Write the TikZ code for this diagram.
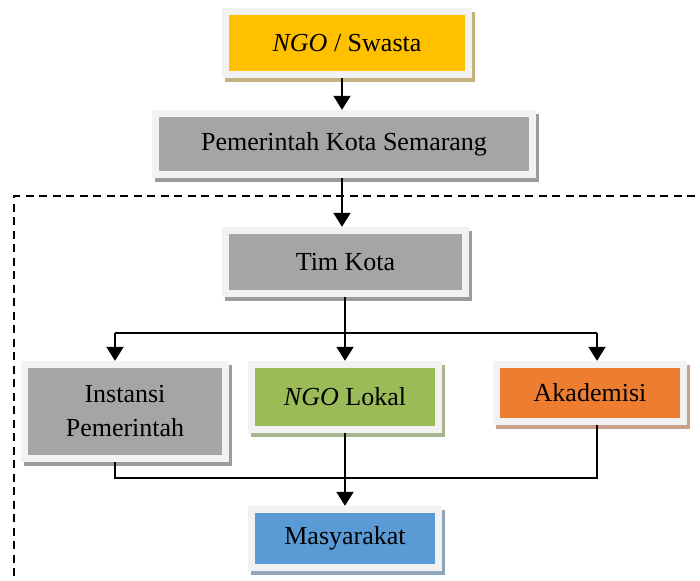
\documentclass[tikz,border=0pt]{standalone}
\usepackage{fontspec}
\setmainfont{Liberation Serif}
\usetikzlibrary{arrows.meta,shadows}
\definecolor{frame}{HTML}{F2F2F2}
\definecolor{cyel}{HTML}{FFC000}
\definecolor{syel}{HTML}{C4B27F}
\definecolor{cgray}{HTML}{A5A5A5}
\definecolor{sgray}{HTML}{9C9C9C}
\definecolor{cgreen}{HTML}{9BBB59}
\definecolor{sgreen}{HTML}{A9B58F}
\definecolor{corange}{HTML}{ED7D31}
\definecolor{sorange}{HTML}{C9A08A}
\definecolor{cblue}{HTML}{5B9BD5}
\definecolor{sblue}{HTML}{8FA5BE}
\tikzset{
  x=1pt, y=-1pt,
  boxnode/.style n args={4}{
    draw=none, fill=frame, inner sep=0pt, minimum width=#1pt, minimum height=#2pt,
    align=center, font=\fontsize{26}{34}\selectfont,
    drop shadow={shadow xshift=3pt, shadow yshift=-4pt, fill=#4, opacity=1},
    path picture={\fill[#3] ([shift={(7pt,7pt)}]path picture bounding box.south west)
      rectangle ([shift={(-7pt,-7pt)}]path picture bounding box.north east);}
  },
  conn/.style={line width=2pt, draw=black},
  arr/.style={conn, -{Triangle[width=17pt,length=14pt]}},
  frameline/.style={line width=1.6pt, dash pattern=on 8pt off 5.5pt}
}
\begin{document}
\begin{tikzpicture}
\useasboundingbox (0,0) rectangle (700,580);
\node[boxnode={250}{70}{cyel}{syel}] (ngo) at (347,43) {\textit{NGO} / Swasta};
\node[boxnode={384}{68}{cgray}{sgray}] (pem) at (344,144) {Pemerintah Kota Semarang};
\node[boxnode={247}{70}{cgray}{sgray}] (tim) at (345.5,262) {Tim Kota};
\node[boxnode={208}{101}{cgray}{sgray}] (ins) at (125,411.5) {Instansi\\Pemerintah};
\node[boxnode={194}{72}{cgreen}{sgreen}] (lok) at (345,397) {\textit{NGO} Lokal};
\node[boxnode={194}{64}{corange}{sorange}] (aka) at (590,393) {Akademisi};
\node[boxnode={194}{65}{cblue}{sblue}] (mas) at (345,538.5) {Masyarakat};

\coordinate (dtr) at (695,196);
\coordinate (dtl) at (14,196);
\coordinate (dbl) at (14,582);
\draw[frameline] (dtr) -- (dtl) -- (dbl);

\coordinate (c1) at (342,0);
\coordinate (c2) at (345,0);
\coordinate (br) at (0,333);
\coordinate (bl) at (0,478);
\coordinate (xl) at (115,0);
\coordinate (xr) at (597,0);

\draw[arr] (ngo.south -| c1) -- (pem.north -| c1);
\draw[arr] (pem.south -| c1) -- (tim.north -| c1);
\draw[conn] (tim.south -| c2) -- (br -| c2);
\draw[conn] (br -| xl) -- (br -| xr);
\draw[arr] (br -| xl) -- (ins.north -| xl);
\draw[arr] (br -| c2) -- (lok.north -| c2);
\draw[arr] (br -| xr) -- (aka.north -| xr);
\draw[conn] (ins.south -| xl) -- (bl -| xl) -- (bl -| xr) -- (aka.south -| xr);
\draw[arr] (lok.south -| c2) -- (mas.north -| c2);
\end{tikzpicture}
\end{document}
